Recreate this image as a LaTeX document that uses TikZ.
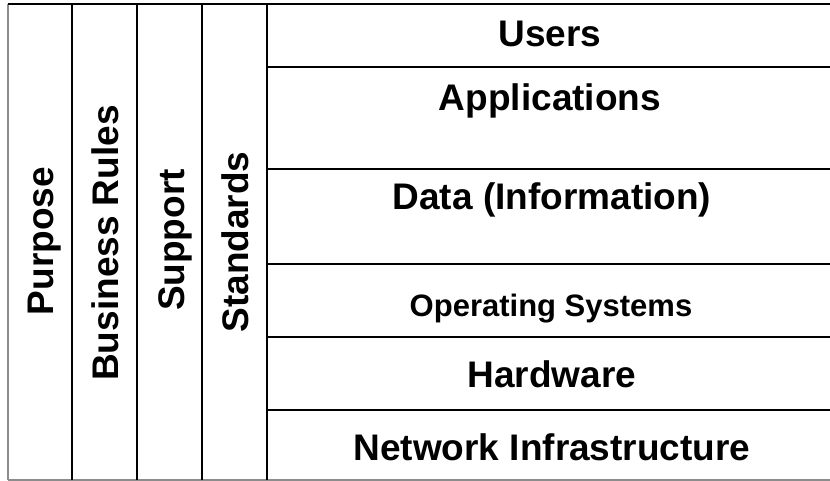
\documentclass[tikz,border=0pt]{standalone}
\usepackage{fontspec}
\setmainfont{Liberation Sans}
\begin{document}
\begin{tikzpicture}[x=1pt,y=-1pt,
  rule/.style={line width=2.8pt,black},
  faint/.style={line width=1.2pt,black!45},
  lbl/.style={inner sep=0pt,anchor=base,font=\fontsize{37}{40}\selectfont\bfseries},
  smalllbl/.style={inner sep=0pt,anchor=base,font=\fontsize{31}{34}\selectfont\bfseries},
  vlbl/.style={lbl,rotate=90}]
\useasboundingbox (0,0) rectangle (830,481);
% outer faint borders
\draw[faint] (8,4) -- (8,480);
\draw[faint] (8,480) -- (830,480);
% top rule
\draw[rule] (8,4) -- (830,4);
% column rules
\foreach \x in {72,137,202,267} \draw[rule] (\x,4) -- (\x,480);
% row rules
\foreach \y in {67,169,264,337,410} \draw[rule] (267,\y) -- (830,\y);
% row labels
\node[lbl] (users) at (550,47) {Users};
\node[lbl] (apps) at (550,111) {Applications};
\node[lbl] (data) at (552,210) {Data (Information)};
\node[smalllbl] (os) at (551,316) {Operating Systems};
\node[lbl] (hw) at (552,387) {Hardware};
\node[lbl] (net) at (552,460) {Network Infrastructure};
% column labels
\node[vlbl] (purpose) at (53,241) {Purpose};
\node[vlbl] (rules) at (118,243) {Business Rules};
\node[vlbl] (support) at (184,240) {Support};
\node[vlbl] (standards) at (248,242) {Standards};
\end{tikzpicture}
\end{document}
